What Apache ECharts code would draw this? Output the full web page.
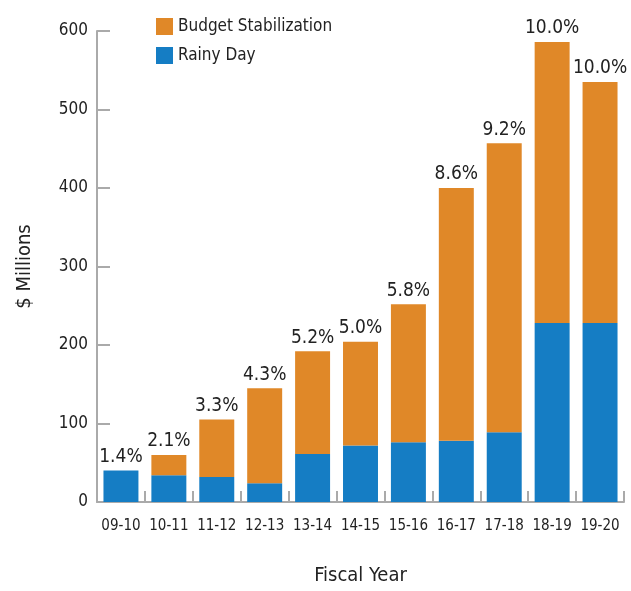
<!DOCTYPE html>
<html>
<head>
<meta charset="utf-8">
<script src="https://cdn.jsdelivr.net/npm/echarts@6/dist/echarts.min.js"></script>
<style>
html, body { margin: 0; padding: 0; background: #fff; }
#chart { width: 631px; height: 591px; }
</style>
</head>
<body>
<div id="chart"></div>
<script>
// fiscal years and reserve balances ($ millions)
var years = ['09-10', '10-11', '11-12', '12-13', '13-14', '14-15', '15-16', '16-17', '17-18', '18-19', '19-20'];
var rainyDay = [40, 34, 32, 24, 61, 72, 76, 78, 89, 228, 228];
var budgetStab = [0, 26, 73, 121, 131, 132, 176, 322, 368, 358, 307];
var pctLabels = ['1.4%', '2.1%', '3.3%', '4.3%', '5.2%', '5.0%', '5.8%', '8.6%', '9.2%', '10.0%', '10.0%'];

var FONT = "'Liberation Sans Narrow', 'DejaVu Sans Condensed', sans-serif";

var chart = echarts.init(document.getElementById('chart'));
var option = {
    animation: false,
    textStyle: { fontFamily: FONT },
    legend: {
        orient: 'vertical',
        left: 151,
        top: 13,
        icon: 'rect',
        itemWidth: 17,
        itemHeight: 17,
        itemGap: 12,
        data: ['Budget Stabilization', 'Rainy Day'],
        textStyle: { fontFamily: FONT, fontSize: 17, color: '#222' }
    },
    grid: {
        left: 97,
        right: 7,
        top: 31,
        bottom: 86
    },
    xAxis: {
        type: 'category',
        data: years,
        name: 'Fiscal Year',
        nameLocation: 'middle',
        nameGap: 64,
        nameTextStyle: { fontFamily: FONT, fontSize: 20, color: '#222' },
        axisLine: { lineStyle: { color: '#aaa', width: 2 } },
        axisTick: { show: true, interval: 0, inside: true, length: 11, lineStyle: { color: '#aaa', width: 2 } },
        axisLabel: { interval: 0, fontFamily: FONT, fontSize: 15, color: '#222', margin: 17 }
    },
    yAxis: {
        type: 'value',
        min: 0,
        max: 600,
        interval: 100,
        name: '$ Millions',
        nameLocation: 'middle',
        nameGap: 62,
        nameRotate: 90,
        nameTextStyle: { fontFamily: FONT, fontSize: 20, color: '#222' },
        splitLine: { show: false },
        axisLine: { show: true, lineStyle: { color: '#aaa', width: 2 } },
        axisTick: { show: true, inside: true, length: 13, lineStyle: { color: '#aaa', width: 2 } },
        axisLabel: { fontFamily: FONT, fontSize: 17, color: '#222', margin: 9 }
    },
    series: [
        {
            name: 'Rainy Day',
            type: 'bar',
            stack: 'total',
            barWidth: '73%',
            itemStyle: { color: '#157dc4' },
            data: rainyDay
        },
        {
            name: 'Budget Stabilization',
            type: 'bar',
            stack: 'total',
            itemStyle: { color: '#e08828' },
            label: {
                show: true,
                position: 'top',
                distance: 4,
                fontFamily: FONT,
                fontSize: 19,
                color: '#222',
                formatter: function (p) { return pctLabels[p.dataIndex]; }
            },
            data: budgetStab
        }
    ]
};
chart.setOption(option);
</script>
</body>
</html>
